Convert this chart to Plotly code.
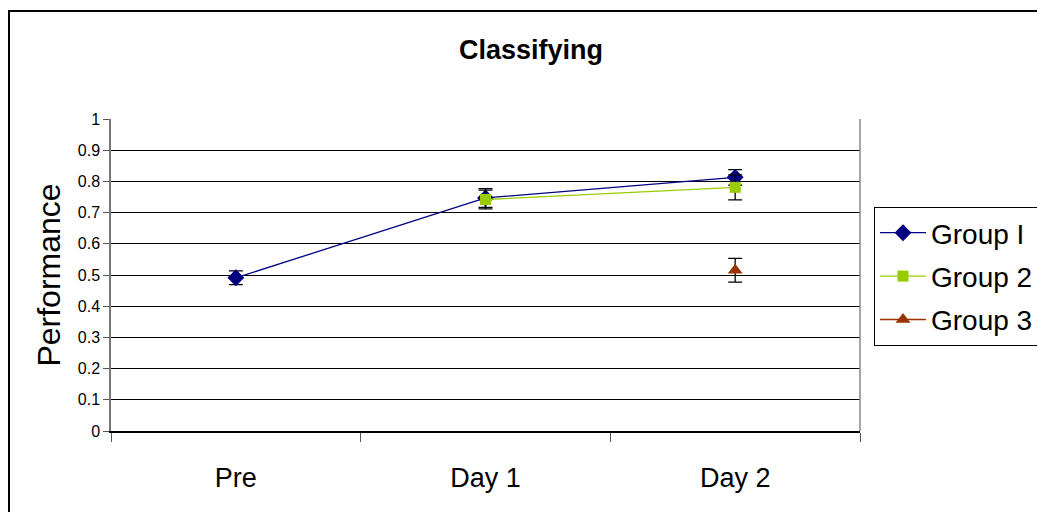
import plotly.graph_objects as go

categories = ["Pre", "Day 1", "Day 2"]
group1 = [0.491, 0.747, 0.813]
group1_err = [0.022, 0.03, 0.025]
group2 = [None, 0.742, 0.781]
group2_err = [0, 0.03, 0.04]
group3 = [None, None, 0.515]
group3_err = [0, 0, 0.038]
yticks = [0, 0.1, 0.2, 0.3, 0.4, 0.5, 0.6, 0.7, 0.8, 0.9, 1]
yticktext = ["0", "0.1", "0.2", "0.3", "0.4", "0.5", "0.6", "0.7", "0.8", "0.9", "1"]

W, H = 1037, 512
L, R, T, B = 111, 860, 119, 431

fig = go.Figure()

def add(name, y, err, color, symbol, size):
    fig.add_trace(go.Scatter(
        x=categories, y=y, name=name, mode="lines+markers",
        line=dict(color=color, width=1.3),
        marker=dict(symbol=symbol, size=size, color=color),
        error_y=dict(type="data", array=err, visible=True, color="black",
                     thickness=1.3, width=7),
        legendgroup=name,
    ))

add("Group I", group1, group1_err, "#000080", "diamond", 13)
add("Group 2", group2, group2_err, "#99CC00", "square", 11)
add("Group 3", group3, group3_err, "#993300", "triangle-up", 13)

pw = R - L
ph = B - T
fig.add_shape(type="rect", xref="paper", yref="paper",
              x0=(9 - L) / pw, x1=(W + 20 - L) / pw,
              y0=(B - (H + 20)) / ph, y1=(B - 11) / ph,
              line=dict(color="black", width=2), fillcolor="rgba(0,0,0,0)",
              layer="above")

fig.update_layout(
    width=W, height=H, autosize=False,
    margin=dict(l=L, r=W - R, t=T, b=H - B, pad=0, autoexpand=False),
    paper_bgcolor="white", plot_bgcolor="white",
    font=dict(family="Liberation Sans, Arial, sans-serif", color="black"),
    title=dict(text="<b>Classifying</b>", x=(531) / W, xanchor="center",
               y=1 - 50 / H, yanchor="middle", font=dict(size=27)),
    showlegend=True,
    legend=dict(xref="container", yref="container",
                x=874 / W, y=1 - 207 / H, xanchor="left", yanchor="top",
                bordercolor="black", borderwidth=1, bgcolor="white",
                font=dict(size=28), itemwidth=46, tracegroupgap=4,
                traceorder="grouped"),
    xaxis=dict(type="category", range=[-0.5, 2.5], tickson="boundaries",
               ticks="outside", ticklen=9, tickcolor="#555", tickwidth=1,
               showline=True, linecolor="black", linewidth=1.5,
               showgrid=False, tickfont=dict(size=27), mirror=False,
               ticklabelstandoff=22, automargin=False),
    yaxis=dict(range=[0, 1], tickvals=yticks, ticktext=yticktext,
               ticks="outside", ticklen=6, tickcolor="#555",
               showline=True, linecolor="#777", linewidth=1.5,
               showgrid=True, gridcolor="black", gridwidth=1,
               zeroline=False, tickfont=dict(size=16), automargin=False,
               title=dict(text="Performance", font=dict(size=32), standoff=8)),
)
fig.add_shape(type="line", xref="paper", yref="paper", x0=1, x1=1, y0=0, y1=1,
              line=dict(color="#888", width=1.5))

fig.write_html("out.html", config={"displayModeBar": False},
               post_script="document.body.style.margin='0';document.body.style.overflow='hidden';")
